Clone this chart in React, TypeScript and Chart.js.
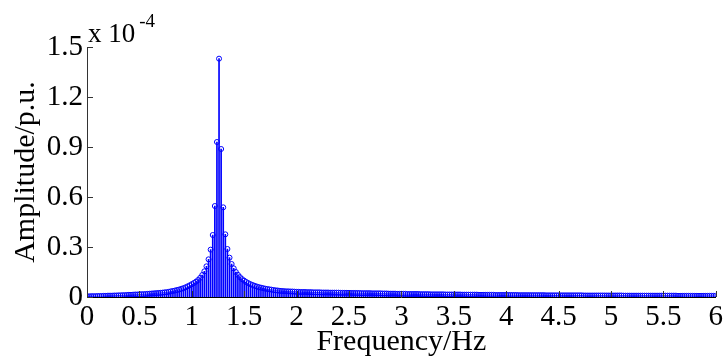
import React, { useEffect, useRef } from "react";
import { Chart, registerables } from "chart.js";

Chart.register(...registerables);

// Frequency bins (Hz)
const FREQ_HZ: number[] = [
  0, 0.02, 0.04, 0.06, 0.08, 0.1, 0.12, 0.14, 0.16, 0.18,
  0.2, 0.22, 0.24, 0.26, 0.28, 0.3, 0.32, 0.34, 0.36, 0.38,
  0.4, 0.42, 0.44, 0.46, 0.48, 0.5, 0.52, 0.54, 0.56, 0.58,
  0.6, 0.62, 0.64, 0.66, 0.68, 0.7, 0.72, 0.74, 0.76, 0.78,
  0.8, 0.82, 0.84, 0.86, 0.88, 0.9, 0.92, 0.94, 0.96, 0.98,
  1.0, 1.02, 1.04, 1.06, 1.08, 1.1, 1.12, 1.14, 1.16, 1.18,
  1.2, 1.22, 1.24, 1.26, 1.28, 1.3, 1.32, 1.34, 1.36, 1.38,
  1.4, 1.42, 1.44, 1.46, 1.48, 1.5, 1.52, 1.54, 1.56, 1.58,
  1.6, 1.62, 1.64, 1.66, 1.68, 1.7, 1.72, 1.74, 1.76, 1.78,
  1.8, 1.82, 1.84, 1.86, 1.88, 1.9, 1.92, 1.94, 1.96, 1.98,
  2.0, 2.02, 2.04, 2.06, 2.08, 2.1, 2.12, 2.14, 2.16, 2.18,
  2.2, 2.22, 2.24, 2.26, 2.28, 2.3, 2.32, 2.34, 2.36, 2.38,
  2.4, 2.42, 2.44, 2.46, 2.48, 2.5, 2.52, 2.54, 2.56, 2.58,
  2.6, 2.62, 2.64, 2.66, 2.68, 2.7, 2.72, 2.74, 2.76, 2.78,
  2.8, 2.82, 2.84, 2.86, 2.88, 2.9, 2.92, 2.94, 2.96, 2.98,
  3.0, 3.02, 3.04, 3.06, 3.08, 3.1, 3.12, 3.14, 3.16, 3.18,
  3.2, 3.22, 3.24, 3.26, 3.28, 3.3, 3.32, 3.34, 3.36, 3.38,
  3.4, 3.42, 3.44, 3.46, 3.48, 3.5, 3.52, 3.54, 3.56, 3.58,
  3.6, 3.62, 3.64, 3.66, 3.68, 3.7, 3.72, 3.74, 3.76, 3.78,
  3.8, 3.82, 3.84, 3.86, 3.88, 3.9, 3.92, 3.94, 3.96, 3.98,
  4.0, 4.02, 4.04, 4.06, 4.08, 4.1, 4.12, 4.14, 4.16, 4.18,
  4.2, 4.22, 4.24, 4.26, 4.28, 4.3, 4.32, 4.34, 4.36, 4.38,
  4.4, 4.42, 4.44, 4.46, 4.48, 4.5, 4.52, 4.54, 4.56, 4.58,
  4.6, 4.62, 4.64, 4.66, 4.68, 4.7, 4.72, 4.74, 4.76, 4.78,
  4.8, 4.82, 4.84, 4.86, 4.88, 4.9, 4.92, 4.94, 4.96, 4.98,
  5.0, 5.02, 5.04, 5.06, 5.08, 5.1, 5.12, 5.14, 5.16, 5.18,
  5.2, 5.22, 5.24, 5.26, 5.28, 5.3, 5.32, 5.34, 5.36, 5.38,
  5.4, 5.42, 5.44, 5.46, 5.48, 5.5, 5.52, 5.54, 5.56, 5.58,
  5.6, 5.62, 5.64, 5.66, 5.68, 5.7, 5.72, 5.74, 5.76, 5.78,
  5.8, 5.82, 5.84, 5.86, 5.88, 5.9, 5.92, 5.94, 5.96, 5.98,
  6.0,
];

// Amplitude in units of 1e-4 p.u.
const AMPLITUDE_E4: number[] = [
  0.004, 0.004, 0.005, 0.005, 0.005, 0.006, 0.006, 0.006, 0.007, 0.007,
  0.008, 0.008, 0.008, 0.009, 0.009, 0.010, 0.010, 0.011, 0.011, 0.012,
  0.013, 0.013, 0.014, 0.015, 0.015, 0.016, 0.017, 0.017, 0.018, 0.019,
  0.020, 0.021, 0.022, 0.023, 0.024, 0.025, 0.026, 0.028, 0.029, 0.031,
  0.034, 0.036, 0.039, 0.042, 0.045, 0.049, 0.053, 0.058, 0.064, 0.070,
  0.077, 0.084, 0.092, 0.102, 0.115, 0.132, 0.154, 0.184, 0.226, 0.284,
  0.372, 0.546, 0.930, 1.430, 0.888, 0.538, 0.376, 0.288, 0.236, 0.198,
  0.172, 0.150, 0.133, 0.119, 0.107, 0.098, 0.090, 0.083, 0.077, 0.072,
  0.067, 0.063, 0.059, 0.056, 0.053, 0.050, 0.048, 0.046, 0.044, 0.042,
  0.040, 0.039, 0.037, 0.036, 0.035, 0.034, 0.034, 0.033, 0.033, 0.032,
  0.031, 0.031, 0.030, 0.030, 0.030, 0.029, 0.029, 0.029, 0.028, 0.028,
  0.028, 0.028, 0.027, 0.027, 0.027, 0.027, 0.026, 0.026, 0.026, 0.026,
  0.026, 0.025, 0.025, 0.025, 0.025, 0.025, 0.024, 0.024, 0.024, 0.024,
  0.024, 0.023, 0.023, 0.023, 0.023, 0.023, 0.022, 0.022, 0.022, 0.022,
  0.022, 0.021, 0.021, 0.021, 0.020, 0.020, 0.020, 0.020, 0.019, 0.019,
  0.019, 0.019, 0.019, 0.018, 0.018, 0.018, 0.018, 0.018, 0.018, 0.017,
  0.017, 0.017, 0.017, 0.017, 0.016, 0.016, 0.016, 0.016, 0.016, 0.016,
  0.016, 0.015, 0.015, 0.015, 0.015, 0.015, 0.015, 0.015, 0.015, 0.014,
  0.014, 0.014, 0.014, 0.014, 0.014, 0.014, 0.014, 0.013, 0.013, 0.013,
  0.013, 0.013, 0.013, 0.013, 0.013, 0.012, 0.012, 0.012, 0.012, 0.012,
  0.012, 0.012, 0.012, 0.012, 0.012, 0.012, 0.011, 0.011, 0.011, 0.011,
  0.011, 0.011, 0.011, 0.011, 0.011, 0.011, 0.011, 0.011, 0.011, 0.010,
  0.010, 0.010, 0.010, 0.010, 0.010, 0.010, 0.010, 0.010, 0.010, 0.010,
  0.010, 0.010, 0.010, 0.010, 0.010, 0.010, 0.010, 0.009, 0.009, 0.009,
  0.009, 0.009, 0.009, 0.009, 0.009, 0.009, 0.009, 0.009, 0.009, 0.009,
  0.009, 0.009, 0.009, 0.009, 0.009, 0.009, 0.008, 0.008, 0.008, 0.008,
  0.008, 0.008, 0.008, 0.008, 0.008, 0.008, 0.008, 0.008, 0.008, 0.008,
  0.008, 0.008, 0.008, 0.008, 0.008, 0.008, 0.008, 0.008, 0.008, 0.008,
  0.008, 0.008, 0.007, 0.007, 0.007, 0.007, 0.007, 0.007, 0.007, 0.007,
  0.007, 0.007, 0.007, 0.007, 0.007, 0.007, 0.007, 0.007, 0.007, 0.007,
  0.007,
];

const X_TITLE = "Frequency/Hz";
const Y_TITLE = "Amplitude/p.u.";
const EXP_BASE = "x 10";
const EXP_POWER = "-4";

const SERIF = '"Liberation Serif", "Times New Roman", serif';
const BLUE = "#0000ff";

const inwardTicks = {
  id: "inwardTicks",
  afterDraw(chart: any) {
    const { ctx, chartArea, scales } = chart;
    const len = 6;
    ctx.save();
    ctx.strokeStyle = "#333";
    ctx.lineWidth = 1;
    ctx.beginPath();
    for (const t of scales.x.ticks) {
      const px = Math.round(scales.x.getPixelForValue(t.value)) + 0.5;
      ctx.moveTo(px, chartArea.bottom);
      ctx.lineTo(px, chartArea.bottom - len);
    }
    for (const t of scales.y.ticks) {
      const py = Math.round(scales.y.getPixelForValue(t.value)) + 0.5;
      ctx.moveTo(chartArea.left, py);
      ctx.lineTo(chartArea.left + len, py);
    }
    ctx.stroke();
    // exponent note
    ctx.fillStyle = "#000";
    ctx.textBaseline = "alphabetic";
    ctx.textAlign = "left";
    ctx.font = `27px ${SERIF}`;
    const x0 = chartArea.left + 1;
    ctx.fillText(EXP_BASE, x0, 42);
    const w = ctx.measureText(EXP_BASE).width;
    ctx.font = `19px ${SERIF}`;
    ctx.fillText(EXP_POWER, x0 + w + 4, 27);
    ctx.restore();
  },
};

export default function App() {
  const ref = useRef<HTMLCanvasElement | null>(null);
  useEffect(() => {
    if (!ref.current) return;
    const points = FREQ_HZ.map((f, i) => ({ x: f, y: AMPLITUDE_E4[i] }));
    const tickFont = { family: SERIF, size: 29 };
    const titleFont = { family: SERIF, size: 30 };
    const chart = new Chart(ref.current, {
      type: "bar",
      data: {
        datasets: [
          {
            type: "line",
            data: points,
            showLine: false,
            pointStyle: "circle",
            pointRadius: 2.5,
            pointBorderWidth: 1,
            pointBorderColor: BLUE,
            pointBackgroundColor: "rgba(0,0,0,0)",
            order: 1,
          } as any,
          {
            type: "bar",
            data: points,
            backgroundColor: BLUE,
            borderWidth: 0,
            barThickness: 1,
            order: 2,
          } as any,
        ],
      },
      options: {
        responsive: false,
        animation: false,
        layout: { padding: { left: 0, right: 8, top: 47, bottom: 0 } },
        plugins: { legend: { display: false }, tooltip: { enabled: false } },
        scales: {
          x: {
            type: "linear",
            min: 0,
            max: 6,
            offset: false,
            grid: { display: false, drawTicks: false },
            border: { display: true, color: "#000", width: 1 },
            ticks: {
              stepSize: 0.5,
              autoSkip: false,
              maxRotation: 0,
              padding: 3,
              color: "#000",
              font: tickFont,
              callback: (v: any) => String(parseFloat(Number(v).toFixed(2))),
            },
            title: {
              display: true,
              text: X_TITLE,
              color: "#000",
              font: titleFont,
              padding: { top: 0, bottom: 3 },
            },
            afterFit: (s: any) => {
              s.height = 66;
            },
          },
          y: {
            type: "linear",
            min: 0,
            max: 1.5,
            grid: { display: false, drawTicks: false },
            border: { display: true, color: "#333", width: 1 },
            ticks: {
              stepSize: 0.3,
              padding: 4,
              color: "#000",
              font: tickFont,
              callback: (v: any) => (Number(v) === 0 ? "0" : Number(v).toFixed(1)),
            },
            title: {
              display: true,
              text: Y_TITLE,
              color: "#000",
              font: titleFont,
              padding: { top: 8, bottom: 0 },
            },
            afterFit: (s: any) => {
              s.width = 87;
            },
          },
        },
      } as any,
      plugins: [inwardTicks],
    });
    return () => chart.destroy();
  }, []);
  return (
    <div style={{ position: "absolute", left: 0, top: 0, width: 726, height: 363 }}>
      <canvas ref={ref} width={726} height={363} style={{ display: "block" }} />
    </div>
  );
}
